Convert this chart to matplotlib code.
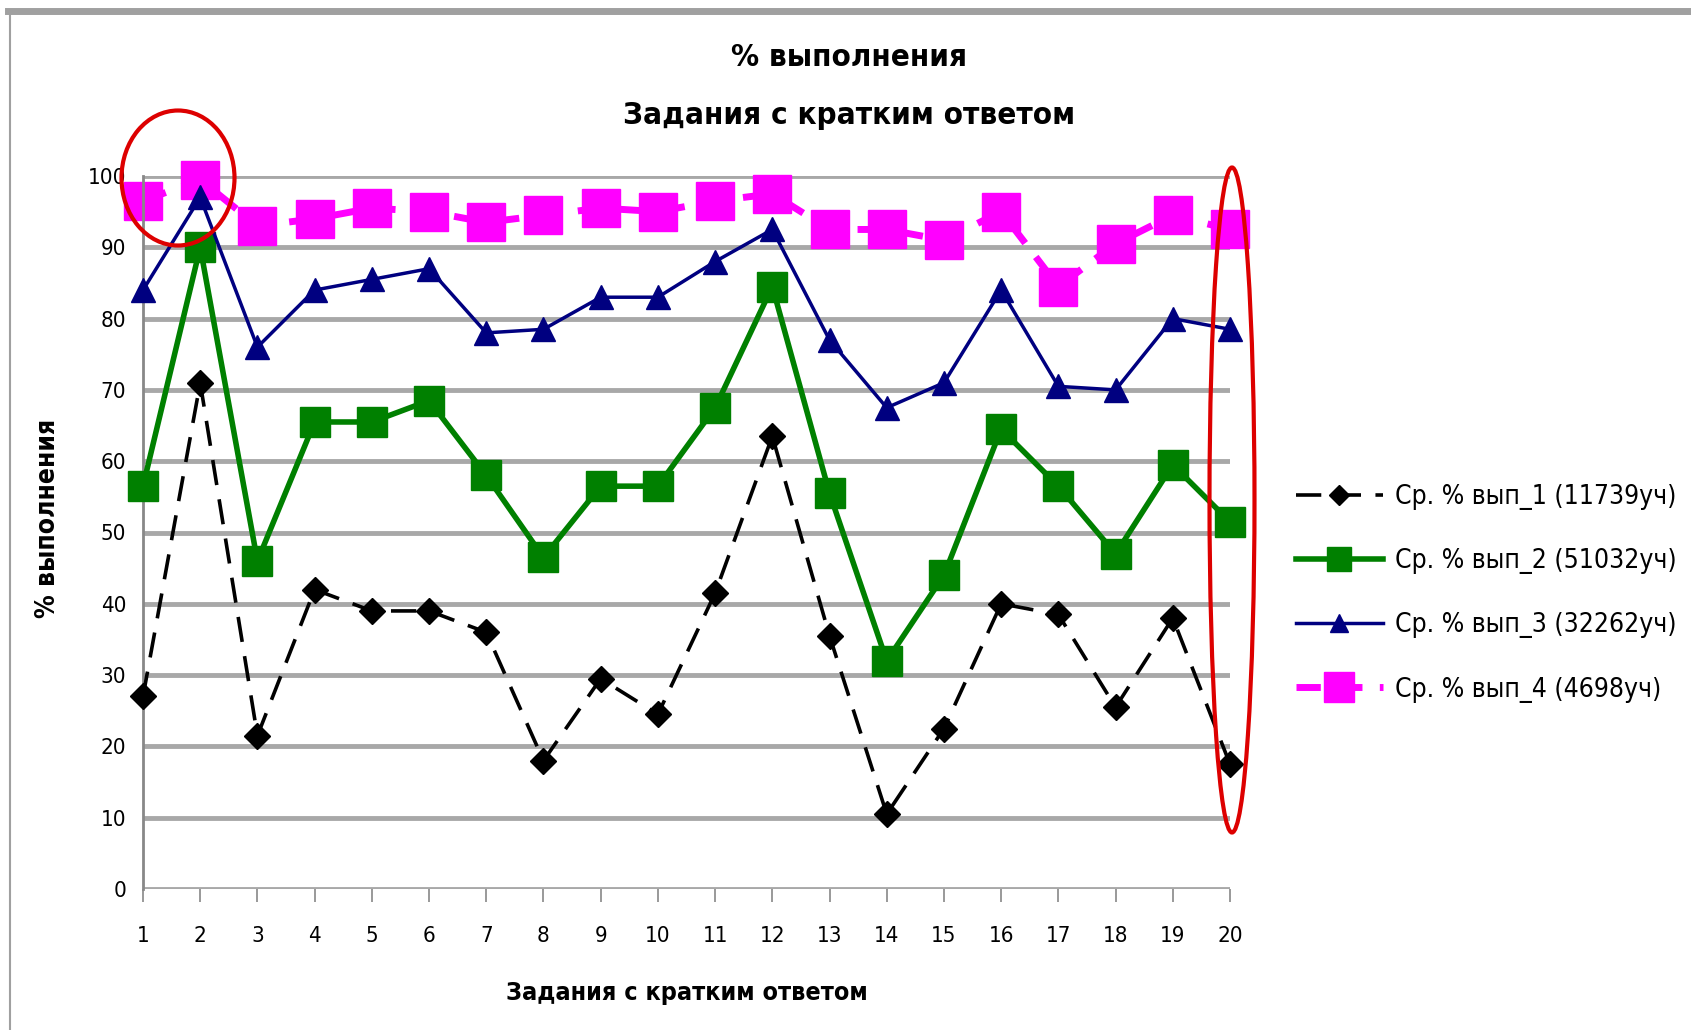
"""Line chart: % выполнения, задания с кратким ответом."""

import matplotlib
matplotlib.use("Agg")
from matplotlib import pyplot as plt
from matplotlib.patches import Ellipse
from matplotlib.lines import Line2D

tasks = list(range(1, 21))

vyp_1 = [27, 71, 21.5, 42, 39, 39, 36, 18, 29.5, 24.5, 41.5, 63.5, 35.5, 10.5, 22.5, 40, 38.5, 25.5, 38, 17.5]
vyp_2 = [56.5, 90, 46, 65.5, 65.5, 68.5, 58, 46.5, 56.5, 56.5, 67.5, 84.5, 55.5, 32, 44, 64.5, 56.5, 47, 59.5, 51.5]
vyp_3 = [84, 97, 76, 84, 85.5, 87, 78, 78.5, 83, 83, 88, 92.5, 77, 67.5, 71, 84, 70.5, 70, 80, 78.5]
vyp_4 = [96.5, 99.5, 93, 94, 95.5, 95, 93.5, 94.5, 95.5, 95, 96.5, 97.5, 92.5, 92.5, 91, 95, 84.5, 90.5, 94.5, 92.5]

labels = [
    "Ср. % вып_1 (11739уч)",
    "Ср. % вып_2 (51032уч)",
    "Ср. % вып_3 (32262уч)",
    "Ср. % вып_4 (4698уч)",
]

plt.rcParams["font.family"] = ["DejaVu Sans"]
plt.rcParams["font.stretch"] = "condensed"

W, H = 1691, 1030
fig = plt.figure(figsize=(W / 100, H / 100), dpi=100)
ax = fig.add_axes([143 / W, 1 - 889 / H, (1230 - 143) / W, (889 - 176) / H])

ax.plot(tasks, vyp_1, color="black", lw=2.6, ls=(0, (7, 4)), marker="D", ms=13,
        label=labels[0], zorder=3, clip_on=False)
ax.plot(tasks, vyp_2, color="#008000", lw=4, marker="s", ms=21,
        label=labels[1], zorder=3, clip_on=False)
ax.plot(tasks, vyp_3, color="#000080", lw=2.5, marker="^", ms=17,
        label=labels[2], zorder=4, clip_on=False)
ax.plot(tasks, vyp_4, color="#ff00ff", lw=5, ls=(0, (3.5, 2.5)), marker="s", ms=27,
        label=labels[3], zorder=2, clip_on=False)

ax.set_xlim(1, 20)
ax.set_ylim(0, 100)
ax.set_xticks(tasks)
ax.set_yticks(range(0, 101, 10))
ax.yaxis.grid(True, color="#a8a8a8", lw=3.5)
ax.set_axisbelow(True)
for side in ["top", "right", "bottom"]:
    ax.spines[side].set_visible(False)
ax.spines["left"].set_color("#888888")
ax.spines["left"].set_linewidth(2)
ax.tick_params(axis="x", length=9, width=1.2, color="#888888", pad=18, labelsize=16)
ax.tick_params(axis="y", length=0, pad=12, labelsize=16)

fig.text(849 / W, 1 - 57 / H, "% выполнения", ha="center", va="center",
         fontsize=22.5, fontweight="bold")
fig.text(849 / W, 1 - 116 / H, "Задания с кратким ответом", ha="center", va="center",
         fontsize=22.5, fontweight="bold")
fig.text(48 / W, 1 - 518 / H, "% выполнения", ha="center", va="center",
         rotation=90, fontsize=19, fontweight="bold")
fig.text(687 / W, 1 - 993 / H, "Задания с кратким ответом", ha="center", va="center",
         fontsize=18, fontweight="bold")

fig.legend(loc="upper left", bbox_to_anchor=(1272 / W, 1 - 460 / H), frameon=False,
           fontsize=19, labelspacing=1.45, handlelength=3.3, handletextpad=0.45,
           markerscale=0.8)

# red highlight ellipses
fig.patches.append(Ellipse((178 / W, 1 - 178 / H), 113 / W, 135 / H, fill=False,
                           ec="#dd0000", lw=3, transform=fig.transFigure, zorder=10))
fig.patches.append(Ellipse((1232 / W, 1 - 500 / H), 45 / W, 665 / H, fill=False,
                           ec="#dd0000", lw=3, transform=fig.transFigure, zorder=10))

# grey frame edges
fig.add_artist(Line2D([8 / W, 1], [1 - 11 / H, 1 - 11 / H], color="#a0a0a0", lw=5,
                      transform=fig.transFigure))
fig.add_artist(Line2D([10 / W, 10 / W], [0, 1 - 11 / H], color="#a0a0a0", lw=1.5,
                      transform=fig.transFigure))

fig.savefig("out.png", dpi=100)
plt.close(fig)
